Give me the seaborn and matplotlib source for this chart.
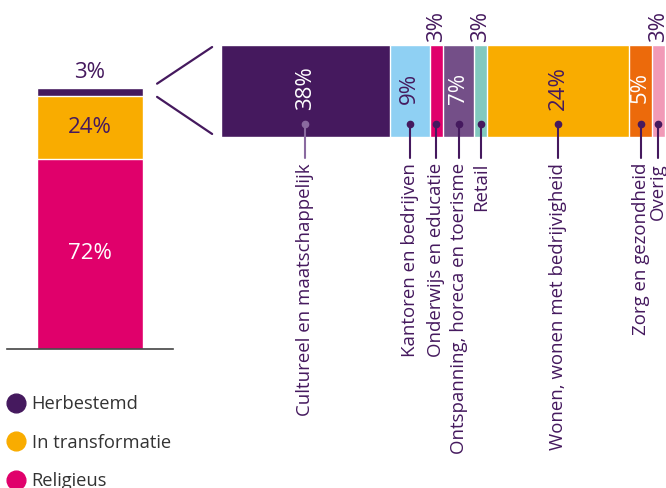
import numpy as np
import matplotlib.pyplot as plt
import matplotlib.transforms as mtransforms
import seaborn as sns
from matplotlib.lines import Line2D
from matplotlib.patches import ConnectionPatch

# =========================================
# DATA
# =========================================

status = ["Religieus", "In transformatie", "Herbestemd"]
status_pct = [72, 24, 3]

uses = [
    "Cultureel en maatschappelijk",
    "Kantoren en bedrijven",
    "Onderwijs en educatie",
    "Ontspanning, horeca en toerisme",
    "Retail",
    "Wonen, wonen met bedrijvigheid",
    "Zorg en gezondheid",
    "Overig",
]
# segment widths as drawn in the picture (the 'Wonen' block is drawn ~32 wide)
use_share = [38, 9, 3, 7, 3, 32, 5, 3]
# printed labels
use_labels = ["38%", "9%", "3%", "7%", "3%", "24%", "5%", "3%"]

# =========================================
# STYLE
# =========================================

PURPLE = "#45195e"
status_colors = ["#e0006b", "#f9ac00", PURPLE]
status_text = ["white", PURPLE, PURPLE]
use_colors = ["#45195e", "#8fd0f3", "#e0006b", "#744f88",
              "#82c9bf", "#f9ac00", "#ec6a0b", "#f19ab7"]
use_text = ["white", PURPLE, PURPLE, "white", PURPLE, PURPLE, "white", PURPLE]

sns.set_style("white")
plt.rcParams["font.family"] = ["Open Sans", "DejaVu Sans"]

W, H = 666, 488
fig = plt.figure(figsize=(W / 100, H / 100), dpi=100)

# =========================================
# LEFT STACKED BAR
# =========================================

ax_l = fig.add_axes([7 / W, (H - 349) / H, 166 / W, 264 / H])
cum_status = np.cumsum(status_pct)
for i in reversed(range(len(status))):
    sns.barplot(x=["all"], y=[cum_status[i]], color=status_colors[i],
                width=0.64, saturation=1, errorbar=None, ax=ax_l)
ax_l.set_xlim(-0.5, 0.5)
ax_l.set_ylim(0, 100)
for s in ["top", "left", "right"]:
    ax_l.spines[s].set_visible(False)
ax_l.spines["bottom"].set_color("#444444")
ax_l.spines["bottom"].set_linewidth(1.2)
ax_l.set_xticks([])
ax_l.set_yticks([])
ax_l.set_xlabel("")
ax_l.set_ylabel("")

lab_y = [cum_status[0] / 2, (cum_status[0] + cum_status[1]) / 2, cum_status[2] + 5.6]
for i, pct in enumerate(status_pct):
    ax_l.text(0, lab_y[i], f"{pct}%", ha="center", va="center",
              fontsize=16, color=status_text[i], clip_on=False)

# =========================================
# RIGHT STACKED BAR (breakdown of Herbestemd)
# =========================================

ax_r = fig.add_axes([221 / W, (H - 137) / H, 444 / W, 92 / H])
cum_use = np.cumsum(use_share)
for i in reversed(range(len(uses))):
    sns.barplot(x=[cum_use[i]], y=["x"], orient="h", color=use_colors[i],
                width=1, saturation=1, errorbar=None, ax=ax_r)
ax_r.set_xlim(0, 100)
ax_r.set_ylim(0.5, -0.5)
ax_r.axis("off")

trans = mtransforms.blended_transform_factory(ax_r.transData, ax_r.transAxes)
centers = cum_use - np.array(use_share) / 2

for i, name in enumerate(uses):
    c = centers[i]
    if use_share[i] >= 4:
        ax_r.text(c, 0.533, use_labels[i], rotation=90, ha="center", va="center",
                  fontsize=16, color=use_text[i], transform=trans)
    else:
        ax_r.text(c, 1.196, use_labels[i], rotation=90, ha="center", va="center",
                  fontsize=16, color=PURPLE, transform=trans, clip_on=False)

    lead_col = "#8a6aa0" if i == 0 else PURPLE
    ax_r.plot([c, c], [0.141, -0.228], color=lead_col, lw=1.5,
              transform=trans, clip_on=False)
    ax_r.plot([c], [0.141], marker="o", ms=4.5, color=lead_col,
              transform=trans, clip_on=False)
    ax_r.text(c, -0.283, name, rotation=90, ha="center", va="top",
              fontsize=13.4, color=PURPLE, transform=trans, clip_on=False)

# zoom connector lines
for ya, yb in [(100.5, 0.978), (95.5, 0.033)]:
    con = ConnectionPatch(xyA=(0.404, ya), coordsA=ax_l.transData,
                          xyB=(-0.02, yb), coordsB=ax_r.transAxes,
                          color=PURPLE, lw=1.6)
    fig.add_artist(con)

# =========================================
# LEGEND
# =========================================

handles = [Line2D([], [], marker="o", linestyle="", markersize=13.5,
                  color=status_colors[i]) for i in reversed(range(len(status)))]
labels = [status[i] for i in reversed(range(len(status)))]
fig.legend(handles, labels, loc="upper left",
           bbox_to_anchor=(6 / W, (H - 395) / H), frameon=False,
           fontsize=13.2, handlelength=1.05, handletextpad=0.35,
           labelspacing=1.12, borderpad=0, borderaxespad=0,
           labelcolor="#333333")

fig.savefig("out.png", dpi=100)
